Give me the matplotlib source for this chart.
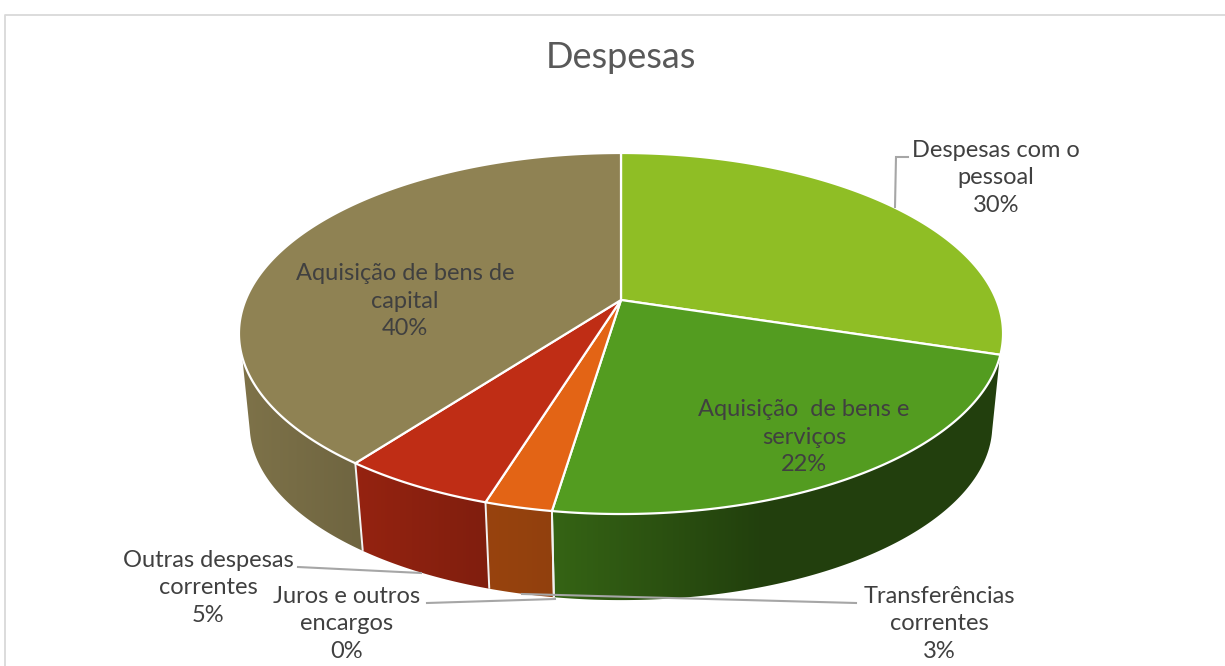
import numpy as np
import matplotlib
matplotlib.use("Agg")
import matplotlib.pyplot as plt
from matplotlib.patches import Polygon

title = "Despesas"
categories = ["Despesas com o\npessoal", "Aquisição  de bens e\nserviços", "Juros e outros\nencargos",
              "Transferências\ncorrentes", "Outras despesas\ncorrentes", "Aquisição de bens de\ncapital"]
shares = [29.8, 22.6, 0.0, 2.4, 5.5, 39.7]
percent_labels = ["30%", "22%", "0%", "3%", "5%", "40%"]
colors = ["#8FBE25", "#539C20", "#E6B91E", "#E36415", "#BF2D15", "#8F8253"]

# label placement: centre x, centre y (px)
label_pos = [(996, 178), (804, 437), (347, 624), (939, 624), (208, 588), (405, 301)]
leaders = [
    [(895, 207), (896, 157), (908, 157)],
    None,
    [(427, 603), (555, 599)],
    [(856, 603), (522, 594)],
    [(298, 567), (421, 573)],
    None,
]

# projection of the pie disc
CX, CY, A, B, K = 621.0, 300.0, 375.4, 174.3, 0.1856
ELL_CY, RIM_CY, RIM_SX, RIM_SY = 333.5, 425.0, 0.972, 0.97
TOP_VISIBLE_Y, RIM_VISIBLE_Y = 357.0, 431.0


def top_xy(theta):
    xx, yy = np.sin(theta), np.cos(theta)
    d = 1 + K * yy
    return CX + A * xx / d, CY - B * yy / d


def rim_xy(theta):
    x, y = top_xy(theta)
    return CX + RIM_SX * (x - CX), RIM_CY + RIM_SY * (y - ELL_CY)


def shade(x):
    return np.interp(x, [240, 355, 488, 553, 760, 1000], [0.88, 0.78, 0.67, 0.64, 0.41, 0.41])


fig = plt.figure(figsize=(12.25, 6.66), dpi=100, facecolor="white")
ax = fig.add_axes([0, 0, 1, 1])
ax.axis("off")

# chart frame
ax.plot([5, 5, 1225], [666, 14.5, 14.5], color="#D9D9D9", lw=1.3, zorder=1)

edges = np.cumsum([0] + shares) / 100 * 2 * np.pi

# visible angular range of the wall
grid = np.linspace(0, 2 * np.pi, 4000)
top_vis = grid[top_xy(grid)[1] >= TOP_VISIBLE_Y]
rim_vis = grid[rim_xy(grid)[1] >= RIM_VISIBLE_Y]

# side walls with a horizontal shading gradient
xgrad = np.linspace(230, 1010, 400)
for i, col in enumerate(colors):
    a0, a1 = max(edges[i], top_vis[0]), min(edges[i + 1], top_vis[-1])
    if shares[i] <= 0 or a1 <= a0:
        continue
    r0 = rim_vis[0] if edges[i] <= top_vis[0] or i == 1 else a0
    r1 = rim_vis[-1] if edges[i + 1] >= top_vis[-1] else a1
    tx, ty = top_xy(np.linspace(a0, a1, 150))
    rx, ry = rim_xy(np.linspace(r1, r0, 150))
    clip = Polygon(np.column_stack([np.r_[tx, rx], np.r_[ty, ry]]), closed=True,
                   transform=ax.transData, facecolor="none", edgecolor="none")
    ax.add_patch(clip)
    base = np.array(matplotlib.colors.to_rgb(col))
    img = base[None, None, :] * shade(xgrad)[None, :, None]
    im = ax.imshow(img, extent=(230, 1010, 610, 340), aspect="auto", interpolation="bilinear", zorder=2)
    im.set_clip_path(clip)

# white edges between the walls on the near side
for e in edges[1:-1]:
    if np.cos(e) < -0.4:
        x0, y0 = top_xy(e)
        x1, y1 = rim_xy(e)
        ax.plot([x0, x1], [y0, y1], color="#F2F2F2", lw=1.4, zorder=3, solid_capstyle="butt")

# top face
for i, col in enumerate(colors):
    if shares[i] <= 0:
        continue
    th = np.linspace(edges[i], edges[i + 1], 200)
    x, y = top_xy(th)
    pts = np.column_stack([np.r_[CX, x], np.r_[CY, y]])
    ax.add_patch(Polygon(pts, closed=True, facecolor=col, edgecolor="white", lw=1.6, joinstyle="round", zorder=4))

# leader lines
for pts in leaders:
    if pts:
        xs, ys = zip(*pts)
        ax.plot(xs, ys, color="#A6A6A6", lw=1.5, zorder=5, solid_joinstyle="miter")

# labels
for cat, pct, (lx, ly) in zip(categories, percent_labels, label_pos):
    ax.text(lx, ly, f"{cat}\n{pct}", ha="center", va="center", multialignment="center",
            family="Lato", fontsize=17, color="#404040", linespacing=1.38, zorder=6)

ax.text(621, 58, title, ha="center", va="center", family="Lato", fontsize=26, color="#595959", zorder=6)

ax.set_xlim(0, 1225)
ax.set_ylim(666, 0)

fig.savefig("out.png", dpi=100, facecolor="white")
